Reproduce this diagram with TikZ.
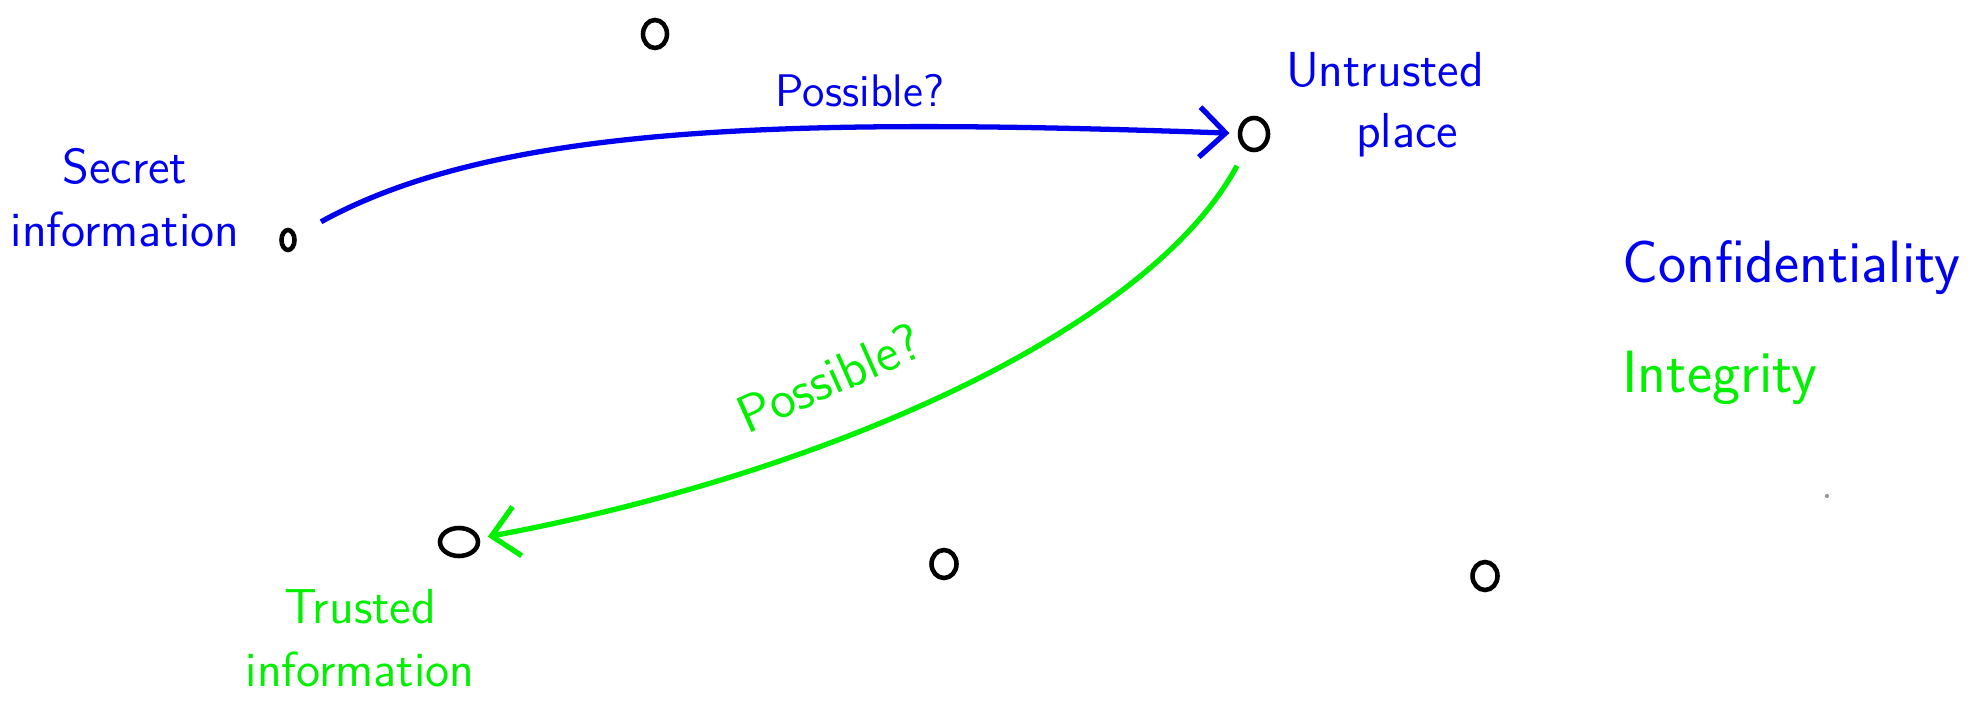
\documentclass[tikz,border=0pt]{standalone}
\usetikzlibrary{arrows.meta,shapes.geometric}
\definecolor{secretblue}{HTML}{0000F0}
\definecolor{trustgreen}{HTML}{00F000}

\begin{document}
\begin{tikzpicture}[
    place/.style={draw=black, line width=1.3pt, ellipse, inner sep=0pt, outer sep=3pt},
    note/.style={font=\sffamily\fontsize{14}{16}\selectfont, align=center},
    flow/.style={line width=1.5pt, -{Straight Barb[length=2.6mm,width=5mm]}}
  ]
  \useasboundingbox (0,0) rectangle (19.84,7.18);

  % Places
  \node[place, minimum width=0.24cm, minimum height=0.28cm] (top) at (6.55,6.84) {};
  \node[place, minimum width=0.28cm, minimum height=0.32cm] (untrusted) at (12.54,5.84) {};
  \node[place, minimum width=0.13cm, minimum height=0.2cm] (secret) at (2.88,4.78) {};
  \node[place, minimum width=0.38cm, minimum height=0.28cm] (trusted) at (4.59,1.76) {};
  \node[place, minimum width=0.25cm, minimum height=0.28cm] (mid) at (9.44,1.54) {};
  \node[place, minimum width=0.25cm, minimum height=0.28cm] (right) at (14.85,1.42) {};
  \fill[black!40] (18.27,2.22) circle (0.6pt);

  % Labels
  \node[note, secretblue] (secretlbl) at (1.25,5.2) {Secret\\[2pt]information};
  \node[note, secretblue] (untrustedlbl) at (13.85,6.48) {Untrusted};
  \node[note, secretblue] (placelbl) at (14.07,5.83) {place};
  \node[note, trustgreen] (trustedlbl) at (3.6,0.8) {Trusted\\[2pt]information};
  \node[font=\sffamily\fontsize{17}{19}\selectfont, secretblue, anchor=west] (conf) at (16.1,4.5) {Confidentiality};
  \node[font=\sffamily\fontsize{17}{19}\selectfont, trustgreen, anchor=west] (integ) at (16.1,3.4) {Integrity};

  % Flows
  \draw[flow, secretblue, shorten <=2mm] (secret) .. controls (5.0,5.95) and (8,6.0) .. (untrusted);
  \node[font=\sffamily\fontsize{13}{15}\selectfont, secretblue] (q1) at (8.6,6.27) {Possible?};

  \draw[flow, trustgreen, shorten <=1mm] (untrusted) .. controls (11.5,3.9) and (8.3,2.45) .. (trusted);
  \node[font=\sffamily\fontsize{15}{17}\selectfont, trustgreen, rotate=24] (q2) at (8.29,3.4) {Possible?};
\end{tikzpicture}
\end{document}
